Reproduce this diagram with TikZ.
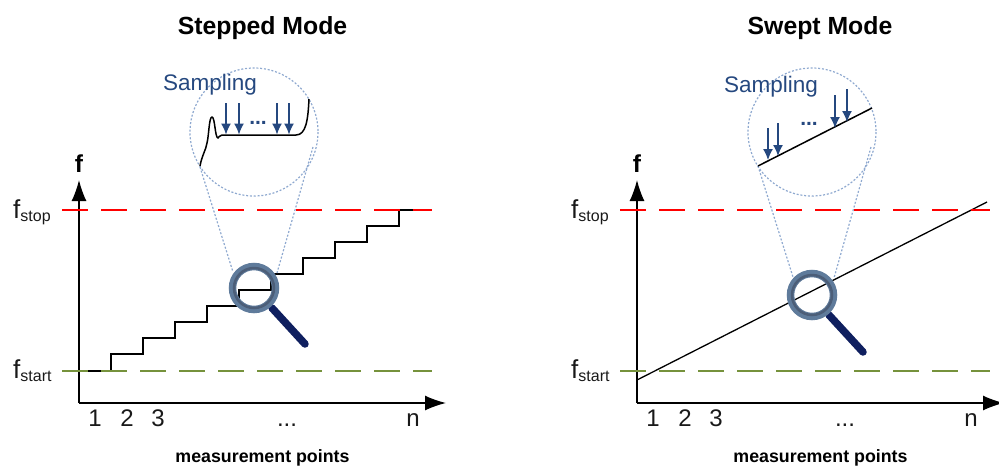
\documentclass[tikz,border=0pt]{standalone}
\usepackage{fontspec}
\setmainfont{Liberation Sans}
\usetikzlibrary{arrows.meta}
\definecolor{sampblue}{HTML}{25487F}
\definecolor{dotblue}{HTML}{8FA9D0}
\definecolor{limegreen}{HTML}{76923C}
\definecolor{ringout}{HTML}{5F7B9B}
\definecolor{ringin}{HTML}{4C5E78}
\definecolor{handle}{HTML}{0F1F5F}
\newcommand{\fs}[1]{\fontsize{#1}{#1}\selectfont}
\newcommand{\fq}[1]{f\raisebox{-3pt}{\fs{16}#1}}
\tikzset{
  x=1pt,y=-1pt,
  title/.style={font=\fs{24.8}\bfseries,inner sep=0,anchor=center},
  caption/.style={font=\fs{17.8}\bfseries,inner sep=0,anchor=center},
  ticklabel/.style={font=\fs{24},inner sep=0,anchor=base,text=black!90},
  axislabel/.style={font=\fs{24.5}\bfseries,inner sep=0,anchor=center},
  freqlabel/.style={font=\fs{26},inner sep=0,anchor=base west,text=black!90},
  samplabel/.style={font=\fs{22.5},inner sep=0,anchor=center,text=sampblue},
  dotslabel/.style={font=\fs{21}\bfseries,inner sep=0,anchor=base,text=sampblue},
  axisline/.style={line width=1.4pt,-{Latex[length=21pt,width=15pt]}},
  stopline/.style={line width=1.4pt,red,dash pattern=on 26pt off 13pt},
  startline/.style={line width=1.4pt,limegreen,dash pattern=on 26pt off 13pt},
  trace/.style={line width=1.3pt,black},
  zoomtrace/.style={line width=1.5pt,black,line join=round},
  samparrow/.style={line width=1.3pt,sampblue,-{Latex[length=11pt,width=10pt]}},
  dotted blue/.style={line width=1.2pt,dotblue,dash pattern=on 2pt off 1.8pt},
  lenshandle/.style={line width=7.5pt,handle,line cap=round},
  lensouter/.style={ringout,line width=7.5pt},
  lensinner/.style={ringin,line width=2.5pt},
}
\begin{document}
\begin{tikzpicture}
\useasboundingbox (0,0) rectangle (999,467);
% ---------- Stepped
\node[title] (t1) at (262.5,28) {Stepped Mode};
\node[caption] (c1) at (262.5,458) {measurement points};
\node[axislabel] (f1) at (79,164) {f};
\coordinate (o1) at (79,403);
\coordinate (ty1) at (79,180);
\coordinate (tx1) at (446,403);
\draw[axisline] (o1) -- (ty1);
\draw[axisline] (o1) -- (tx1);
\node[freqlabel] (fstop1) at (13,218) {\fq{stop}};
\node[freqlabel] (fstart1) at (13,378) {\fq{start}};
\node[ticklabel] (a1) at (95,426) {1};
\node[ticklabel] (a2) at (127,426) {2};
\node[ticklabel] (a3) at (158,426) {3};
\node[ticklabel] (a4) at (287,426) {...};
\node[ticklabel] (a5) at (413,426) {n};
\draw[trace] (88,371) -- (111,371) |- (143,354) |- (175,338) |- (207,322) |- (239,306)
  |- (271,290) |- (303,274) |- (335,258) |- (367,242) |- (399,226) |- (431,210);
\draw[stopline] (62,210) -- (432,210);
\draw[startline] (62,371) -- (432,371);
% zoom
\coordinate (bc1) at (254,132);
\coordinate (lc1) at (254,288);
\draw[dotted blue] (bc1) circle[radius=64];
\draw[dotted blue] (200,167) -- (233,272);
\draw[dotted blue] (313,147) -- (277,273);
\node[samplabel] (s1) at (210,85) {Sampling};
\draw[zoomtrace] (200,166) .. controls (202,155) and (206,150) .. (207,143)
  .. controls (209,135) and (209,117) .. (212,117)
  .. controls (215,117) and (215,138) .. (218,138)
  .. controls (219,138) and (219,135) .. (222,135)
  -- (296,135) .. controls (306,135) and (308,120) .. (309,99);
\foreach \x in {226,239,277,289} \draw[samparrow] (\x,103) -- (\x,134.5);
\node[dotslabel] (d1) at (258,124) {...};
\draw[lenshandle] (272,308) -- (305,344);
\draw[lensouter] (lc1) circle[radius=21.5];
\draw[lensinner] (lc1) circle[radius=20];
% ---------- Swept
\node[title] (t2) at (820,28) {Swept Mode};
\node[caption] (c2) at (820.5,458) {measurement points};
\node[axislabel] (f2) at (637,164) {f};
\coordinate (o2) at (637,403);
\coordinate (ty2) at (637,180);
\coordinate (tx2) at (1004,403);
\draw[axisline] (o2) -- (ty2);
\draw[axisline] (o2) -- (tx2);
\node[freqlabel] (fstop2) at (571,218) {\fq{stop}};
\node[freqlabel] (fstart2) at (571,378) {\fq{start}};
\node[ticklabel] (b1) at (653,426) {1};
\node[ticklabel] (b2) at (685,426) {2};
\node[ticklabel] (b3) at (716,426) {3};
\node[ticklabel] (b4) at (845,426) {...};
\node[ticklabel] (b5) at (971,426) {n};
\draw[trace] (637,380) -- (987,202);
\draw[stopline] (620,210) -- (990,210);
\draw[startline] (620,371) -- (990,371);
\coordinate (bc2) at (812,132);
\coordinate (lc2) at (812,295);
\draw[dotted blue] (bc2) circle[radius=64];
\draw[dotted blue] (758,166) -- (793,277);
\draw[dotted blue] (871,147) -- (834,278);
\node[samplabel] (s2) at (771,87) {Sampling};
\draw[zoomtrace] (758,166) -- (872,108);
\draw[samparrow] (768,128) -- (768,160);
\draw[samparrow] (778,123) -- (778,156);
\draw[samparrow] (835,95) -- (835,128);
\draw[samparrow] (847,89) -- (847,122);
\node[dotslabel] (d2) at (809,125) {...};
\draw[lenshandle] (829,315) -- (863,352);
\draw[lensouter] (lc2) circle[radius=21.5];
\draw[lensinner] (lc2) circle[radius=20];
\end{tikzpicture}
\end{document}
